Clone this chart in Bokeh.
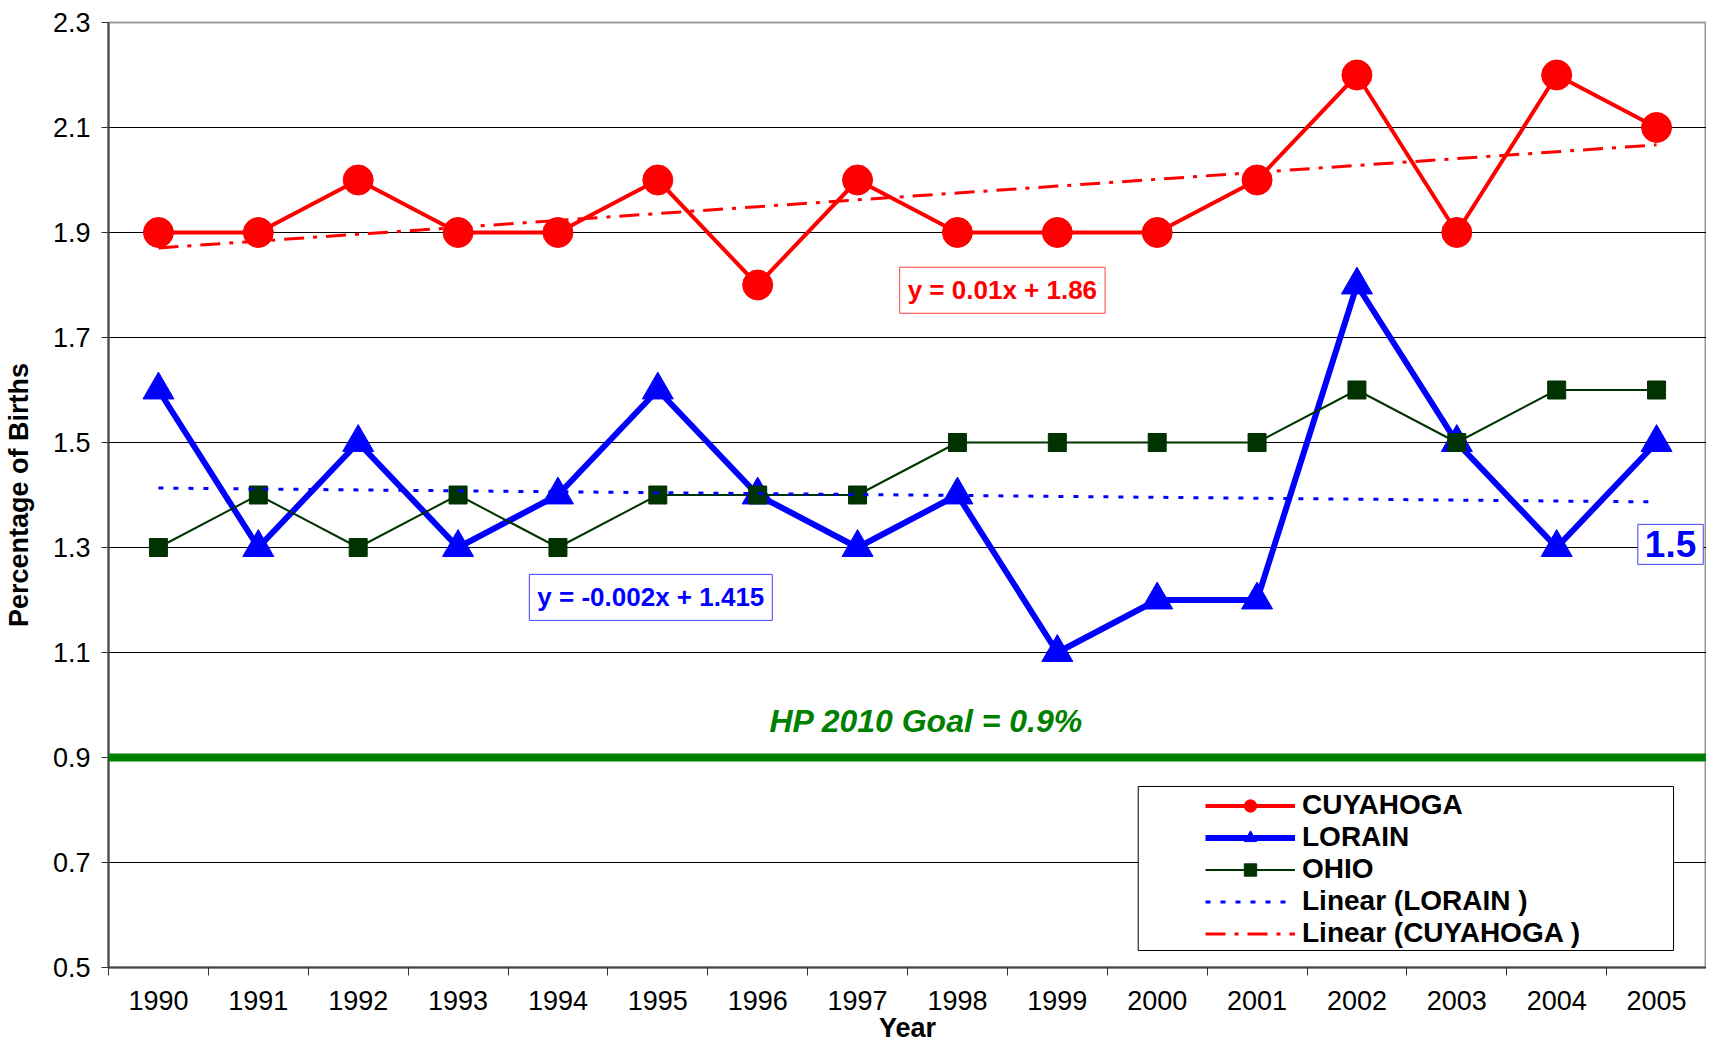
import numpy as np
from bokeh.plotting import figure
from bokeh.models import (Range1d, FixedTicker, Span, Label, Legend, LegendItem,
                          BoxAnnotation, ColumnDataSource)
from bokeh.embed import file_html
from bokeh.resources import INLINE

# ---------------- data ----------------
years = [1990, 1991, 1992, 1993, 1994, 1995, 1996, 1997,
         1998, 1999, 2000, 2001, 2002, 2003, 2004, 2005]
year_labels = ["1990", "1991", "1992", "1993", "1994", "1995", "1996", "1997",
               "1998", "1999", "2000", "2001", "2002", "2003", "2004", "2005"]
cuyahoga = [1.9, 1.9, 2.0, 1.9, 1.9, 2.0, 1.8, 2.0, 1.9, 1.9, 1.9, 2.0, 2.2, 1.9, 2.2, 2.1]
lorain = [1.6, 1.3, 1.5, 1.3, 1.4, 1.6, 1.4, 1.3, 1.4, 1.1, 1.2, 1.2, 1.8, 1.5, 1.3, 1.5]
ohio = [1.3, 1.4, 1.3, 1.4, 1.3, 1.4, 1.4, 1.4, 1.5, 1.5, 1.5, 1.5, 1.6, 1.5, 1.6, 1.6]
y_ticks = [0.5, 0.7, 0.9, 1.1, 1.3, 1.5, 1.7, 1.9, 2.1, 2.3]
y_tick_labels = ["0.5", "0.7", "0.9", "1.1", "1.3", "1.5", "1.7", "1.9", "2.1", "2.3"]
hp_goal = 0.9
last_lorain_label = "1.5"

FONT = "Liberation Sans"
RED = "#FF0000"
BLUE = "#0000FF"
DKGREEN = "#003300"
GREEN = "#008000"

# linear trend lines (least squares over series index 1..16, as in Excel)
idx = np.arange(1, len(years) + 1)
cuy_fit = np.polyfit(idx, cuyahoga, 1)
lor_fit = np.polyfit(idx, lorain, 1)
cuy_trend = np.polyval(cuy_fit, idx)
lor_trend = np.polyval(lor_fit, idx)

src = ColumnDataSource(dict(year=years, cuy=cuyahoga, lor=lorain, ohio=ohio,
                            cuy_t=cuy_trend, lor_t=lor_trend))

p = figure(width=1706, height=1046, output_backend="svg", toolbar_location=None,
           x_range=Range1d(years[0] - 0.5, years[-1] + 0.5),
           y_range=Range1d(y_ticks[0], y_ticks[-1]),
           min_border_left=108, min_border_right=0, min_border_top=22,
           min_border_bottom=79)
p.background_fill_color = "white"
p.border_fill_color = "white"
p.outline_line_color = "#9a9a9a"
p.outline_line_width = 2

# grid
p.xgrid.grid_line_color = None
p.ygrid.grid_line_color = "black"
p.ygrid.grid_line_width = 1

# x axis: labels at category centres, tick marks at category boundaries
boundaries = [y - 0.5 for y in years] + [years[-1] + 0.5]
p.xaxis.ticker = FixedTicker(ticks=years, minor_ticks=boundaries)
p.xaxis.major_label_overrides = {y: l for y, l in zip(years, year_labels)}
p.xaxis.major_tick_out = 8
p.xaxis.major_tick_in = 0
p.xaxis.major_tick_line_color = None
p.xaxis.minor_tick_out = 8
p.xaxis.minor_tick_in = 0
p.xaxis.minor_tick_line_color = "#333333"
p.xaxis.axis_line_color = "#444444"
p.xaxis.axis_line_width = 2
p.xaxis.major_label_standoff = 15
p.xaxis.major_label_text_font = FONT
p.xaxis.major_label_text_font_size = "27px"
p.xaxis.major_label_text_color = "black"
p.xaxis.axis_label = "Year"
p.xaxis.axis_label_text_font = FONT
p.xaxis.axis_label_text_font_size = "27px"
p.xaxis.axis_label_text_font_style = "bold"
p.xaxis.axis_label_text_color = "black"
p.xaxis.axis_label_standoff = 0

# y axis
p.yaxis.ticker = FixedTicker(ticks=y_ticks)
p.yaxis.major_label_overrides = {t: l for t, l in zip(y_ticks, y_tick_labels)}
p.yaxis.major_tick_out = 7
p.yaxis.major_tick_in = 0
p.yaxis.major_tick_line_color = "#333333"
p.yaxis.minor_tick_line_color = None
p.yaxis.axis_line_color = "#444444"
p.yaxis.axis_line_width = 2
p.yaxis.major_label_standoff = 11
p.yaxis.major_label_text_font = FONT
p.yaxis.major_label_text_font_size = "27px"
p.yaxis.major_label_text_color = "black"
p.yaxis.axis_label = "Percentage of Births"
p.yaxis.axis_label_text_font = FONT
p.yaxis.axis_label_text_font_size = "27px"
p.yaxis.axis_label_text_font_style = "bold"
p.yaxis.axis_label_text_color = "black"
p.yaxis.axis_label_standoff = 16

# HP 2010 goal line
p.add_layout(Span(location=hp_goal, dimension="width", line_color=GREEN,
                  line_width=8, line_cap="round"))

# series
lor_line = p.line("year", "lor", source=src, line_color=BLUE, line_width=6,
                  line_join="round")
lor_pts = p.scatter("year", "lor", source=src, marker="triangle", size=31,
                    fill_color=BLUE, line_color=BLUE)
ohio_line = p.line("year", "ohio", source=src, line_color=DKGREEN, line_width=2)
ohio_pts = p.scatter("year", "ohio", source=src, marker="square", size=18,
                     fill_color=DKGREEN, line_color=DKGREEN)
cuy_line = p.line("year", "cuy", source=src, line_color=RED, line_width=4)
cuy_pts = p.scatter("year", "cuy", source=src, marker="circle", size=30,
                    fill_color=RED, line_color=RED)
lor_tr = p.line("year", "lor_t", source=src, line_color=BLUE, line_width=3,
                line_dash="5 10")
cuy_tr = p.line("year", "cuy_t", source=src, line_color=RED, line_width=3,
                line_dash="20 9 4 9")

# equation / value labels
p.add_layout(Label(x=1998.45, y=1.79, text="y = 0.01x + 1.86",
                   text_align="center", text_baseline="middle",
                   text_color=RED, text_font=FONT, text_font_style="bold",
                   text_font_size="26px", border_line_color="#FF4040",
                   border_line_width=1, background_fill_color="white",
                   padding=8))
p.add_layout(Label(x=1994.93, y=1.205, text="y = -0.002x + 1.415",
                   text_align="center", text_baseline="middle",
                   text_color=BLUE, text_font=FONT, text_font_style="bold",
                   text_font_size="26px", border_line_color="#4040FF",
                   border_line_width=1, background_fill_color="white",
                   padding=8))
p.add_layout(Label(x=2005.14, y=1.306, text=last_lorain_label,
                   text_align="center", text_baseline="middle",
                   text_color=BLUE, text_font=FONT, text_font_style="bold",
                   text_font_size="37px", border_line_color="#4040FF",
                   border_line_width=1, background_fill_color="white",
                   padding=7))
p.add_layout(Label(x=1997.69, y=0.97, text="HP 2010 Goal = 0.9%",
                   text_align="center", text_baseline="middle",
                   text_color=GREEN, text_font=FONT,
                   text_font_style="bold italic", text_font_size="32px"))

# legend frame + legend
p.add_layout(BoxAnnotation(left=1999.81, right=2005.17, bottom=0.5324, top=0.8448,
                           fill_color="white", fill_alpha=1.0,
                           line_color="black", line_width=1, line_alpha=1.0))
legend = Legend(items=[
    LegendItem(label="CUYAHOGA", renderers=[cuy_line, cuy_pts]),
    LegendItem(label="LORAIN", renderers=[lor_line, lor_pts]),
    LegendItem(label="OHIO", renderers=[ohio_line, ohio_pts]),
    LegendItem(label="Linear (LORAIN )", renderers=[lor_tr]),
    LegendItem(label="Linear (CUYAHOGA )", renderers=[cuy_tr]),
], location=(1097, 18), padding=5, margin=0, spacing=0,
    glyph_width=90, glyph_height=31, label_height=31, label_standoff=7,
    label_text_font=FONT, label_text_font_style="bold",
    label_text_font_size="28px", label_text_color="black",
    border_line_color=None, background_fill_alpha=0.0)
p.add_layout(legend)

open("out.html", "w").write(file_html(p, INLINE))
